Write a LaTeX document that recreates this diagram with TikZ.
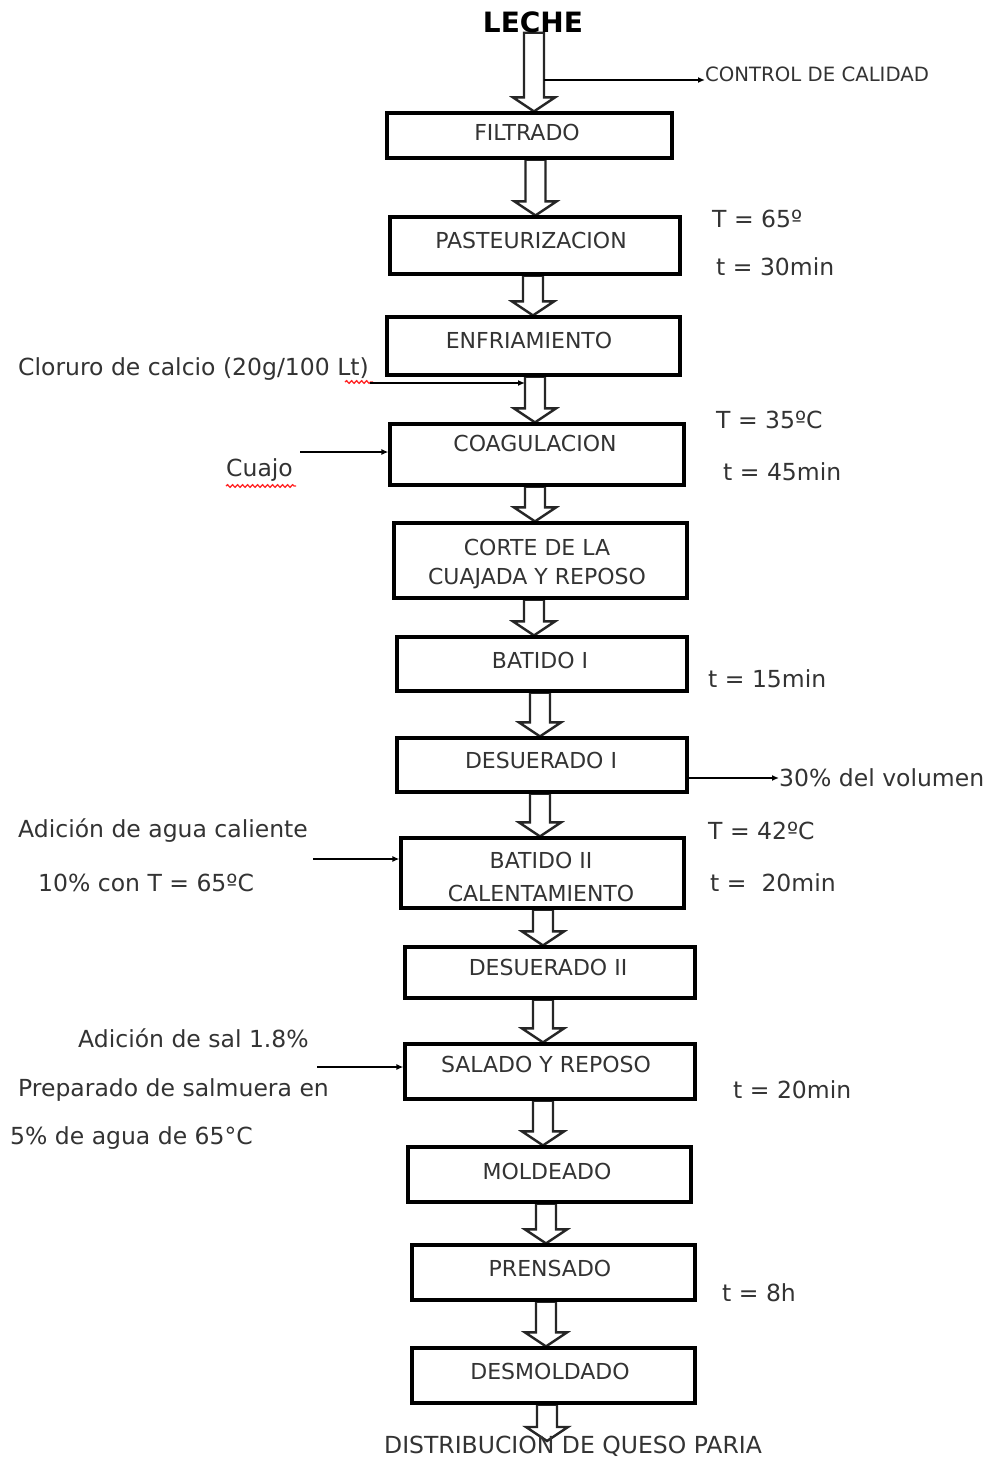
\documentclass[tikz,border=0pt]{standalone}
\usepackage{fontspec}
\setmainfont{DejaVu Sans}
\usetikzlibrary{arrows.meta,backgrounds,calc,decorations.pathmorphing}

% hollow block arrow from the bottom of one node to the top of another, at a given x
\newcommand\hollowarrow[3]{%
  \path let \p1=(#1), \p2=(#2) in
    [hollow] (#3pt-10pt,\y1) -- (#3pt-10pt,\y2+14pt) -- (#3pt-21pt,\y2+14pt)
    -- (#3pt,\y2) -- (#3pt+21pt,\y2+14pt) -- (#3pt+10pt,\y2+14pt)
    -- (#3pt+10pt,\y1) -- cycle;}

\tikzset{
  stepbox/.style={draw=black, line width=3.2pt, fill=none, inner sep=0pt},
  boxtext/.style={inner sep=0pt, text=black!80, font=\fontsize{22}{24}\selectfont},
  side/.style={inner sep=0pt, anchor=west, text=black!80, font=\fontsize{23.5}{26}\selectfont},
  hollow/.style={draw=black!85, fill=white, line width=2.4pt, line join=miter},
  feed/.style={draw=black, line width=2pt, -{Latex[length=7pt,width=6pt]}},
  squiggle/.style={draw=red!85, line width=1.3pt, decorate,
    decoration={snake, amplitude=1.3pt, segment length=5pt}}
}

\begin{document}
\begin{tikzpicture}[x=1pt,y=-1pt]
\useasboundingbox (0,0) rectangle (987,1459);

% title and final product
\node[inner sep=0pt, font=\fontsize{28}{32}\selectfont\bfseries] (leche) at (533,22) {LECHE};
\node[inner sep=0pt, text=black!80, font=\fontsize{23.5}{28}\selectfont] (dist) at (573,1446) {DISTRIBUCION DE QUESO PARIA};
\coordinate (distTop) at (547,1441);

% process boxes
\node[stepbox, minimum width=285pt, minimum height=45pt] (filt) at (529.5,135.5) {};
\node[stepbox, minimum width=290pt, minimum height=57pt] (past) at (535,245.5) {};
\node[stepbox, minimum width=293pt, minimum height=58pt] (enfr) at (533.5,346) {};
\node[stepbox, minimum width=294pt, minimum height=61pt] (coag) at (537,454.5) {};
\node[stepbox, minimum width=293pt, minimum height=75pt] (corte) at (540.5,560.5) {};
\node[stepbox, minimum width=290pt, minimum height=54pt] (bat1) at (542,664) {};
\node[stepbox, minimum width=290pt, minimum height=54pt] (des1) at (542,765) {};
\node[stepbox, minimum width=283pt, minimum height=70pt] (bat2) at (542.5,873) {};
\node[stepbox, minimum width=290pt, minimum height=51pt] (des2) at (550,972.5) {};
\node[stepbox, minimum width=290pt, minimum height=55pt] (sal) at (550,1071.5) {};
\node[stepbox, minimum width=283pt, minimum height=55pt] (mold) at (549.5,1174.5) {};
\node[stepbox, minimum width=283pt, minimum height=55pt] (pren) at (553.5,1272.5) {};
\node[stepbox, minimum width=283pt, minimum height=55pt] (desm) at (553.5,1375.5) {};

% box labels
\node[boxtext] at (527,132) {FILTRADO};
\node[boxtext] at (531,240) {PASTEURIZACION};
\node[boxtext] at (529,340) {ENFRIAMIENTO};
\node[boxtext] at (535,443) {COAGULACION};
\node[boxtext] at (537,547) {CORTE DE LA};
\node[boxtext] at (537,579) {CUAJADA Y REPOSO};
\node[boxtext] at (540,660) {BATIDO I};
\node[boxtext] at (541,760) {DESUERADO I};
\node[boxtext] at (541,860) {BATIDO II};
\begin{scope}
  \clip (bat2.north west) rectangle ([yshift=1.6pt]bat2.south east);
  \node[boxtext] at (541,893) {CALENTAMIENTO};
\end{scope}
\node[boxtext] at (548,967) {DESUERADO II};
\node[boxtext] at (546,1064) {SALADO Y REPOSO};
\node[boxtext] at (547,1171) {MOLDEADO};
\node[boxtext] at (550,1268) {PRENSADO};
\node[boxtext] at (550,1371) {DESMOLDADO};

% white page and hollow flow arrows, behind the boxes
\begin{scope}[on background layer]
  \fill[white] (0,0) rectangle (987,1459);
  \hollowarrow{leche.south}{filt.north}{534}
  \hollowarrow{filt.south}{past.north}{535.5}
  \hollowarrow{past.south}{enfr.north}{533}
  \hollowarrow{enfr.south}{coag.north}{535}
  \hollowarrow{coag.south}{corte.north}{535}
  \hollowarrow{corte.south}{bat1.north}{534}
  \hollowarrow{bat1.south}{des1.north}{540}
  \hollowarrow{des1.south}{bat2.north}{540}
  \hollowarrow{bat2.south}{des2.north}{543}
  \hollowarrow{des2.south}{sal.north}{543}
  \hollowarrow{sal.south}{mold.north}{543}
  \hollowarrow{mold.south}{pren.north}{546}
  \hollowarrow{pren.south}{desm.north}{546}
  \hollowarrow{desm.south}{distTop}{547}
\end{scope}

% side notes
\node[inner sep=0pt, anchor=west, text=black!80, font=\fontsize{19.7}{22}\selectfont] (ctl) at (705,74) {CONTROL DE CALIDAD};
\node[side] at (712,219) {T = 65º};
\node[side] at (716,267) {t = 30min};
\node[side] (clor) at (18,369) {Cloruro de calcio (20g/100 Lt)};
\node[side] at (716,420) {T = 35ºC};
\node[side] at (723,472) {t = 45min};
\node[side] (cuajo) at (226,470) {Cuajo};
\node[side] at (708,679) {t = 15min};
\node[side] (vol) at (779,778) {30\% del volumen};
\node[side] at (18,831) {Adición de agua caliente};
\node[side] at (38,883) {10\% con T = 65ºC};
\node[side] at (708,831) {T = 42ºC};
\node[side] at (710,883) {t =\ \ 20min};
\node[side] at (78,1038) {Adición de sal 1.8\%};
\node[side] at (18,1090) {Preparado de salmuera en};
\node[side] at (10,1138) {5\% de agua de 65°C};
\node[side] at (733,1090) {t = 20min};
\node[side] at (722,1293) {t = 8h};

% spell-check underlines
\draw[squiggle] (345,382) -- (373,382);
\draw[squiggle] (226,486) -- (296,486);

% thin feed arrows
\coordinate (shaftR) at (544,80);
\coordinate (shaftL) at (525,383);
\coordinate (clorEnd) at (370,383);
\coordinate (cuajoStart) at (300,452);
\coordinate (aguaStart) at (313,859);
\coordinate (salStart) at (317,1067);
\draw[feed] (shaftR) -- (ctl.west |- shaftR);
\draw[feed] (clorEnd) -- (shaftL);
\draw[feed] (cuajoStart) -- (cuajoStart -| coag.west);
\draw[feed] (des1.east |- vol.west) -- (vol.west);
\draw[feed] (aguaStart) -- (aguaStart -| bat2.west);
\draw[feed] (salStart) -- (salStart -| sal.west);
\end{tikzpicture}
\end{document}
